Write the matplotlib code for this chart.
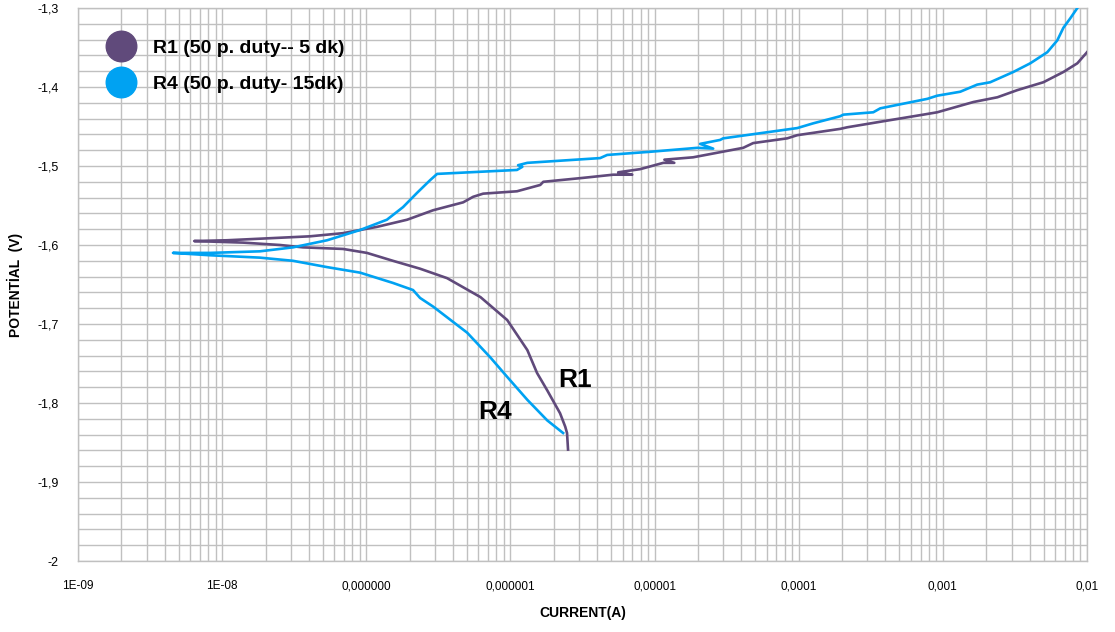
import matplotlib
matplotlib.use('Agg')
from matplotlib import pyplot as plt
from matplotlib.ticker import FixedLocator, FixedFormatter, MultipleLocator, LogLocator, NullFormatter
from matplotlib.lines import Line2D

# R1 (50 p. duty-- 5 dk): from cathodic end, through Ecorr, to anodic end
r1_current = [2.51e-6, 2.47e-6, 2.40e-6, 2.21e-6, 1.80e-6, 1.53e-6, 1.31e-6, 9.5e-7, 6.2e-7,
              3.64e-7, 2.36e-7, 1.53e-7, 1.01e-7, 6.9e-8, 3.64e-8, 2.52e-8, 1.40e-8, 6.4e-9,
              1.08e-8, 2.40e-8, 4.07e-8, 6.9e-8, 1.19e-7, 1.92e-7, 2.91e-7, 4.70e-7, 5.51e-7,
              6.47e-7, 1.11e-6, 1.61e-6, 1.69e-6, 3.20e-6, 5.16e-6, 7.0e-6, 5.59e-6, 7.94e-6,
              1.15e-5, 1.37e-5, 1.17e-5, 1.85e-5, 4.12e-5, 4.83e-5, 8.32e-5, 9.77e-5, 1.94e-4,
              2.17e-4, 3.68e-4, 7.31e-4, 9.14e-4, 1.63e-3, 2.39e-3, 3.28e-3, 4.98e-3, 6.86e-3,
              8.57e-3, 1.0e-2]
r1_potential = [-1.859, -1.838, -1.830, -1.813, -1.784, -1.762, -1.733, -1.695, -1.666,
                -1.642, -1.630, -1.620, -1.610, -1.605, -1.603, -1.600, -1.597, -1.595,
                -1.594, -1.591, -1.589, -1.585, -1.577, -1.568, -1.556, -1.546, -1.539,
                -1.535, -1.532, -1.524, -1.520, -1.515, -1.511, -1.511, -1.508, -1.504,
                -1.496, -1.496, -1.492, -1.489, -1.477, -1.471, -1.465, -1.461, -1.453,
                -1.451, -1.444, -1.435, -1.432, -1.419, -1.413, -1.404, -1.394, -1.381,
                -1.370, -1.356]

# R4 (50 p. duty- 15dk)
r4_current = [2.32e-6, 1.80e-6, 1.31e-6, 9.5e-7, 7.23e-7, 5.01e-7, 2.91e-7, 2.36e-7, 2.11e-7,
              1.53e-7, 1.25e-7, 9.06e-8, 5.35e-8, 3.10e-8, 1.83e-8, 8.24e-9, 4.56e-9,
              8.24e-9, 1.83e-8, 3.10e-8, 5.35e-8, 9.06e-8, 1.39e-7, 1.80e-7, 2.25e-7, 2.77e-7,
              3.10e-7, 1.11e-6, 1.21e-6, 1.13e-6, 1.31e-6, 4.19e-6, 4.69e-6, 9.32e-6, 1.98e-5,
              2.55e-5, 2.07e-5, 2.85e-5, 2.99e-5, 9.77e-5, 1.26e-4, 1.94e-4, 2.04e-4, 3.29e-4,
              3.68e-4, 7.80e-4, 9.14e-4, 1.32e-3, 1.73e-3, 2.13e-3, 3.08e-3, 4.04e-3, 5.30e-3,
              6.22e-3, 6.86e-3, 7.66e-3, 8.57e-3]
r4_potential = [-1.838, -1.822, -1.796, -1.767, -1.742, -1.711, -1.678, -1.667, -1.657,
                -1.648, -1.643, -1.635, -1.628, -1.620, -1.616, -1.613, -1.610,
                -1.610, -1.608, -1.603, -1.594, -1.581, -1.568, -1.552, -1.534, -1.518,
                -1.510, -1.505, -1.501, -1.499, -1.496, -1.490, -1.486, -1.482, -1.477,
                -1.478, -1.472, -1.467, -1.465, -1.452, -1.446, -1.437, -1.435, -1.432,
                -1.427, -1.415, -1.411, -1.406, -1.397, -1.394, -1.381, -1.370, -1.356,
                -1.341, -1.325, -1.313, -1.300]

x_ticks = [1e-9, 1e-8, 1e-7, 1e-6, 1e-5, 1e-4, 1e-3, 1e-2]
x_labels = ['1E-09', '1E-08', '0,000000', '0,000001', '0,00001', '0,0001', '0,001', '0,01']
y_ticks = [-2.0, -1.9, -1.8, -1.7, -1.6, -1.5, -1.4, -1.3]
y_labels = ['-2', '-1,9', '-1,8', '-1,7', '-1,6', '-1,5', '-1,4', '-1,3']

c_r1 = '#604A7B'
c_r4 = '#00A2F2'
grid_c = '#C0C0C0'

plt.rcParams['font.family'] = ['Liberation Sans', 'DejaVu Sans']

fig = plt.figure(figsize=(11.15, 6.32), dpi=100)
ax = fig.add_axes([78 / 1115, 1 - 561 / 632, 1009 / 1115, 553 / 632])

ax.plot(r1_current, r1_potential, color=c_r1, lw=1.9, zorder=3)
ax.plot(r4_current, r4_potential, color=c_r4, lw=1.9, zorder=3)

ax.set_xscale('log')
ax.set_xlim(1e-9, 1e-2)
ax.set_ylim(-2.0, -1.3)

ax.xaxis.set_major_locator(FixedLocator(x_ticks))
ax.xaxis.set_major_formatter(FixedFormatter(x_labels))
ax.xaxis.set_minor_locator(LogLocator(base=10, subs=range(2, 10), numticks=20))
ax.xaxis.set_minor_formatter(NullFormatter())
ax.yaxis.set_major_locator(FixedLocator(y_ticks))
ax.yaxis.set_major_formatter(FixedFormatter(y_labels))
ax.yaxis.set_minor_locator(MultipleLocator(0.02))

ax.grid(True, which='both', color=grid_c, lw=1.0, zorder=0)
ax.set_axisbelow(True)
for s in ax.spines.values():
    s.set_color(grid_c)
    s.set_linewidth(1.0)

ax.tick_params(which='both', length=0)
ax.tick_params(axis='x', pad=14, labelsize=8.5)
ax.tick_params(axis='y', pad=14, labelsize=9)

ax.set_xlabel('CURRENT(A)', fontsize=10, fontweight='bold', labelpad=10)
ax.set_ylabel('POTENTİAL  (V)', fontsize=10, fontweight='bold', labelpad=10)

ax.text(2.81e-6, -1.771, 'R1', fontsize=19, fontweight='bold', ha='center', va='center')
ax.text(7.83e-7, -1.811, 'R4', fontsize=19, fontweight='bold', ha='center', va='center')

handles = [Line2D([], [], ls='none', marker='o', ms=22, color=c_r1),
           Line2D([], [], ls='none', marker='o', ms=22, color=c_r4)]
ax.legend(handles, ['R1 (50 p. duty-- 5 dk)', 'R4 (50 p. duty- 15dk)'],
          loc='upper left', bbox_to_anchor=(0.011, 0.975), frameon=False,
          prop={'size': 14, 'weight': 'bold'}, labelspacing=0.95,
          handlelength=1.5, handletextpad=0.9)

plt.savefig('out.png', dpi=100)
